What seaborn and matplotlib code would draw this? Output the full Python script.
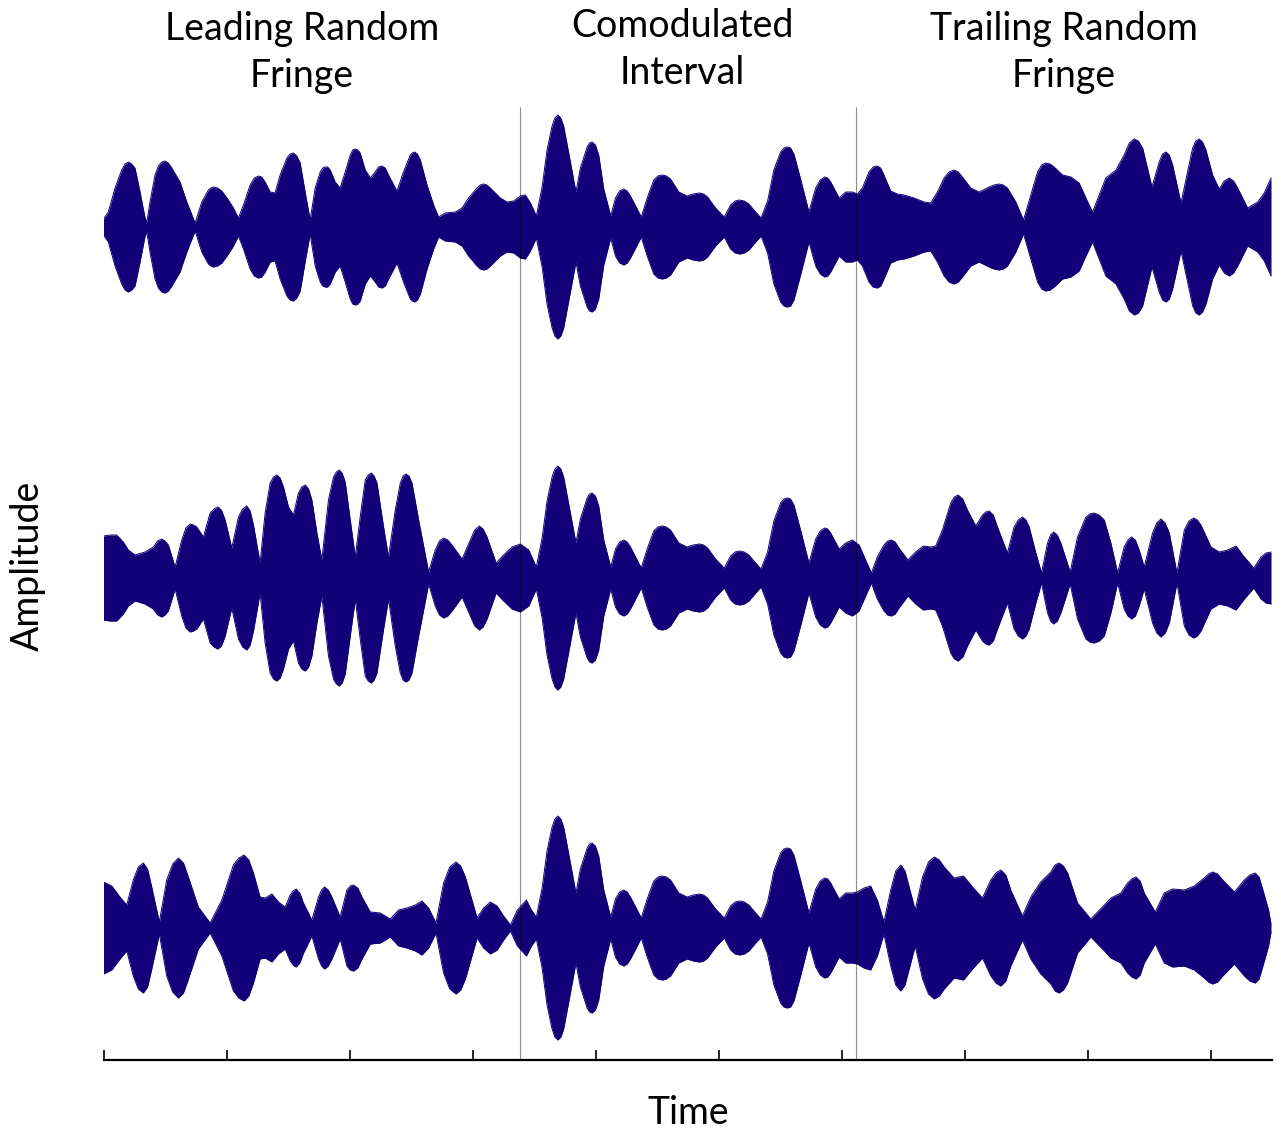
import numpy as np
import pandas as pd
import matplotlib
matplotlib.use("Agg")
import matplotlib.pyplot as plt
import seaborn as sns

# ---------------------------------------------------------------------------
# Envelope data (time in ms, envelope half-amplitude in arbitrary units)
# ---------------------------------------------------------------------------
TICKS_MS = [0, 100, 200, 300, 400, 500, 600, 700, 800, 900]
BOUNDARIES_MS = [339, 612]
SECTION_LABELS = ["Leading Random\nFringe", "Comodulated\nInterval", "Trailing Random\nFringe"]

# shared envelope in the comodulated interval
COMOD_T = [351.9, 356.6, 360.6, 364.7, 367.0, 369.4, 371.8, 374.1, 379.6, 384.1,
           387.7, 393.2, 395.2, 397.2, 399.9, 402.6, 406.7, 412.4, 416.2, 419.6,
           423.0, 425.7, 428.4, 433.9, 437.2, 442.0, 447.4, 450.8, 454.2, 457.6,
           461.0, 467.7, 474.5, 479.5, 484.6, 487.9, 491.1, 497.6, 504.7, 509.8,
           513.5, 517.1, 520.9, 524.7, 530.2, 534.6, 539.9, 545.0, 550.5, 553.2,
           555.9, 558.6, 561.3, 566.7, 573.5, 579.0, 582.7, 586.3, 588.8, 591.2,
           598.1, 603.4]
COMOD_A = [11, 40, 77, 101, 109, 112, 109, 101, 65, 35,
           59, 80, 84, 85, 82, 72, 38, 11, 29, 36,
           38, 36, 31, 18, 10, 29, 47, 51, 52, 51,
           48, 35, 31, 33, 34, 33, 30, 19, 10, 22,
           26, 27, 26, 23, 15, 9, 26, 57, 75, 79,
           80, 79, 73, 48, 15, 39, 47, 50, 49, 45,
           29, 35]

# band 1
LEAD1_T = [0, 3.9, 9.4, 14.8, 17.5, 20.2, 22.9, 25.6, 29.7, 33.8,
           35.2, 37.8, 41.9, 44.6, 47.4, 50.0, 52.7, 55.5, 62.2, 67.7,
           74.5, 79.9, 85.3, 87.3, 89.3, 92.7, 96.2, 101.5, 105.6, 109.7,
           113.8, 119.2, 122.6, 126.0, 128.7, 131.4, 135.5, 139.5, 143.6, 149.1,
           151.7, 154.4, 157.1, 159.9, 163.9, 168.0, 172.1, 176.2, 178.2, 180.2,
           182.2, 184.3, 188.4, 192.4, 196.5, 200.6, 202.6, 204.7, 206.7, 208.7,
           212.8, 216.9, 220.9, 223.6, 226.4, 229.0, 231.7, 238.6, 243.9, 249.4,
           251.1, 252.9, 255.2, 257.6, 263.0, 268.4, 272.4, 277.9, 286.0, 291.5,
           296.8, 303.7, 306.3, 309.0, 311.7, 314.5, 322.6, 328.1, 333.5, 338.9,
           343.0, 347.1]
LEAD1_A = [8, 15, 39, 57, 63, 65, 63, 59, 35, 9,
           5, 25, 52, 61, 65, 66, 64, 59, 45, 25,
           4, 25, 37, 39, 40, 39, 36, 27, 19, 9,
           22, 42, 49, 51, 50, 45, 35, 34, 52, 69,
           73, 74, 71, 64, 35, 7, 39, 55, 59, 60,
           60, 57, 45, 39, 55, 72, 77, 78, 77, 74,
           57, 49, 55, 60, 61, 59, 52, 36, 55, 72,
           74, 75, 73, 67, 42, 22, 10, 14, 15, 19,
           29, 39, 42, 43, 42, 39, 29, 25, 26, 31,
           32, 24]
TRAIL1_T = [608.8, 612.9, 617.0, 622.3, 625.7, 629.1, 631.8, 634.5, 640.0, 645.5,
            650.8, 659.0, 667.1, 672.5, 678.0, 683.4, 687.4, 691.5, 694.9, 698.3,
            705.1, 711.8, 720.0, 724.0, 728.1, 731.5, 734.9, 741.7, 748.0, 753.9,
            759.4, 762.7, 766.1, 769.5, 772.9, 779.7, 786.5, 793.2, 798.7, 804.1,
            809.5, 814.9, 823.1, 829.8, 834.0, 838.0, 841.4, 844.8, 852.4, 858.3,
            861.0, 863.8, 866.5, 869.2, 876.0, 881.4, 885.5, 888.1, 890.8, 893.5,
            896.3, 901.7, 907.1, 911.2, 915.3, 918.7, 922.1, 930.2, 938.4, 943.7,
            949.2]
TRAIL1_A = [35, 33, 39, 55, 60, 61, 59, 52, 36, 33,
            32, 29, 25, 24, 35, 49, 55, 57, 55, 50,
            39, 35, 40, 42, 43, 42, 39, 25, 7, 32,
            55, 62, 64, 63, 60, 52, 50, 44, 29, 15,
            32, 49, 57, 72, 84, 88, 86, 79, 40, 65,
            73, 75, 72, 62, 24, 55, 79, 86, 88, 85,
            77, 52, 38, 46, 49, 46, 39, 19, 25, 34,
            49]

# band 2
LEAD2_T = [0, 5.3, 10.7, 16.1, 20.2, 25.6, 33.8, 40.5, 44.0, 47.4,
           50.0, 52.7, 58.2, 63.6, 67.0, 70.4, 73.1, 75.8, 81.2, 86.7,
           89.8, 92.9, 95.9, 98.9, 104.3, 109.7, 113.1, 116.5, 119.2, 121.9,
           127.3, 131.4, 135.5, 138.2, 140.9, 143.6, 146.3, 150.4, 154.4, 158.5,
           161.2, 164.0, 166.7, 169.4, 173.5, 177.5, 182.9, 187.0, 189.3, 191.6,
           194.0, 196.5, 200.6, 204.7, 208.7, 212.8, 215.2, 217.7, 220.0, 222.3,
           227.7, 231.7, 237.2, 241.3, 243.6, 245.9, 248.3, 250.8, 256.2, 264.3,
           269.7, 273.1, 276.5, 279.9, 283.3, 291.5, 298.2, 301.8, 305.5, 308.6,
           311.8, 319.2, 325.3, 332.1, 338.9, 345.7]
LEAD2_A = [42, 43, 43, 36, 28, 23, 26, 31, 37, 39,
           37, 33, 11, 38, 50, 54, 53, 51, 41, 65,
           69, 71, 68, 58, 30, 61, 69, 72, 67, 53,
           15, 65, 95, 101, 103, 100, 91, 71, 63, 85,
           91, 93, 89, 78, 45, 18, 78, 101, 106, 108,
           105, 96, 58, 21, 61, 98, 103, 105, 102, 95,
           51, 21, 68, 95, 102, 104, 102, 95, 58, 6,
           28, 37, 40, 38, 33, 19, 38, 48, 52, 49,
           41, 15, 23, 31, 34, 28]
TRAIL2_T = [608.8, 614.3, 619.6, 624.3, 629.1, 634.5, 637.5, 640.5, 643.6, 646.7,
            654.0, 660.3, 666.5, 672.5, 676.6, 682.0, 688.8, 691.8, 694.8, 698.6,
            702.4, 709.2, 714.6, 717.3, 720.0, 723.4, 726.8, 734.9, 740.3, 743.7,
            747.1, 749.9, 752.6, 758.0, 762.6, 767.5, 770.0, 772.4, 775.4, 778.3,
            785.9, 791.9, 798.7, 802.0, 805.4, 809.5, 813.6, 819.0, 824.5, 829.8,
            832.8, 835.8, 838.9, 842.0, 846.1, 852.9, 856.3, 859.7, 863.1, 866.5,
            872.7, 878.7, 882.5, 886.3, 889.3, 892.2, 900.4, 907.1, 914.0, 920.7,
            927.5, 935.2, 941.1, 945.2, 949.2]
TRAIL2_A = [38, 33, 18, 5, 21, 33, 37, 38, 36, 30,
            18, 26, 32, 31, 32, 48, 75, 81, 83, 79,
            68, 52, 63, 66, 67, 63, 51, 25, 51, 58,
            61, 58, 51, 25, 5, 35, 43, 46, 43, 35,
            6, 41, 61, 64, 65, 63, 58, 35, 5, 31,
            38, 41, 38, 28, 11, 45, 55, 59, 55, 45,
            5, 48, 57, 60, 58, 53, 31, 26, 28, 32,
            21, 10, 21, 25, 26]

# band 3
LEAD3_T = [0, 6.7, 13.4, 18.9, 24.2, 28.3, 32.4, 35.8, 39.2, 45.4,
           51.4, 56.2, 60.9, 65.0, 69.0, 77.1, 86.7, 96.2, 105.6, 110.0,
           114.3, 118.1, 121.9, 127.3, 131.4, 136.9, 142.2, 147.7, 151.8, 154.2,
           156.6, 159.6, 162.6, 169.4, 174.8, 177.3, 179.7, 182.7, 185.7, 192.4,
           197.9, 200.6, 203.3, 206.7, 210.1, 216.9, 225.0, 233.1, 239.9, 246.7,
           253.5, 258.9, 264.3, 270.3, 276.5, 281.5, 286.6, 290.4, 294.2, 303.7,
           309.0, 314.5, 320.0, 325.3, 330.8, 336.5, 343.8, 347.9]
LEAD3_A = [46, 42, 31, 23, 48, 61, 65, 59, 41, 6,
           48, 64, 70, 65, 51, 21, 5, 28, 63, 70,
           73, 68, 55, 31, 30, 34, 26, 21, 33, 37,
           39, 35, 25, 8, 31, 38, 41, 38, 31, 11,
           38, 42, 43, 40, 31, 16, 15, 9, 18, 20,
           23, 27, 20, 5, 45, 61, 66, 62, 51, 10,
           20, 26, 22, 12, 3, 18, 28, 18]
TRAIL3_T = [608.8, 612.9, 618.3, 623.7, 629.1, 634.5, 640.0, 644.1, 648.2, 651.6,
            655.0, 659.9, 665.9, 670.7, 675.4, 679.5, 683.5, 691.5, 699.2, 706.5,
            714.6, 721.4, 725.5, 729.5, 733.6, 737.6, 747.1, 753.9, 762.0, 770.2,
            773.6, 776.9, 780.4, 783.8, 791.9, 802.7, 812.2, 819.0, 827.1, 832.6,
            836.0, 839.4, 842.8, 846.1, 855.1, 862.4, 869.2, 878.7, 886.8, 894.9,
            898.3, 901.7, 905.8, 909.9, 919.4, 927.5, 931.9, 936.3, 939.5, 942.6,
            947.2, 949.2]
TRAIL3_A = [35, 36, 40, 42, 28, 6, 38, 57, 63, 57,
            41, 18, 51, 66, 71, 68, 61, 50, 52, 41,
            30, 48, 55, 58, 53, 38, 12, 31, 46, 56,
            63, 65, 62, 55, 25, 9, 21, 30, 35, 45,
            49, 51, 47, 35, 16, 35, 39, 38, 42, 50,
            54, 56, 54, 48, 36, 48, 53, 55, 51, 38,
            18, 4]

BANDS = [
    (LEAD1_T, LEAD1_A, TRAIL1_T, TRAIL1_A),
    (LEAD2_T, LEAD2_A, TRAIL2_T, TRAIL2_A),
    (LEAD3_T, LEAD3_A, TRAIL3_T, TRAIL3_A),
]

# ---------------------------------------------------------------------------
# Styling / layout
# ---------------------------------------------------------------------------
NAVY = "#120078"
W, H = 1281, 1131
BAND_OFFSETS = [0, -351, -701]      # vertical stacking of the three bands
Y_LIM = (-833, 127)

sns.set_theme(style="white")
plt.rcParams["font.family"] = ["Lato", "DejaVu Sans"]

fig = plt.figure(figsize=(W / 100, H / 100), dpi=100)
ax = fig.add_axes([103.5 / W, (H - 1060) / H, (1272 - 103.5) / W, (1060 - 100) / H])

# long-form table of envelope edges for seaborn
records = []
for i, (lt, la, tt, ta) in enumerate(BANDS):
    t = np.concatenate([lt, COMOD_T, tt])
    a = np.concatenate([la, COMOD_A, ta])
    off = BAND_OFFSETS[i]
    ax.fill_between(t, off - a, off + a, color=NAVY, linewidth=0, zorder=2)
    for side, sign in (("upper", 1), ("lower", -1)):
        for tv, av in zip(t, a):
            records.append({"time": tv, "y": off + sign * av, "trace": f"{i}-{side}"})
df = pd.DataFrame(records)

sns.lineplot(data=df, x="time", y="y", units="trace", estimator=None,
             color=NAVY, linewidth=0.7, sort=False, legend=False, ax=ax, zorder=2)

# section boundaries
ax.vlines(BOUNDARIES_MS, Y_LIM[0], 120, colors="black", linewidth=0.8,
          alpha=0.45, zorder=3)

ax.set_xlim(0, 950)
ax.set_ylim(*Y_LIM)
ax.set_xticks(TICKS_MS)
ax.set_yticks([])
ax.set_xlabel("")
ax.set_ylabel("")
ax.tick_params(axis="x", direction="in", length=7, width=1.2, color="black",
               labelbottom=False, bottom=True)
for s in ("top", "left", "right"):
    ax.spines[s].set_visible(False)
ax.spines["bottom"].set_color("black")
ax.spines["bottom"].set_linewidth(1.6)
ax.patch.set_alpha(0)

# section headers
FS = 27
header_pos = [(302, 40, 87), (682, 37, 84), (1064, 40, 87)]
for label, (xc, y1, y2) in zip(SECTION_LABELS, header_pos):
    l1, l2 = label.split("\n")
    fig.text(xc / W, 1 - y1 / H, l1, ha="center", va="baseline", fontsize=FS, color="black")
    fig.text(xc / W, 1 - y2 / H, l2, ha="center", va="baseline", fontsize=FS, color="black")

fig.text(688 / W, 1 - 1124 / H, "Time", ha="center", va="baseline", fontsize=FS, color="black")
fig.text(46 / W, 1 - 566 / H, "Amplitude", ha="right", va="center", rotation=90,
         fontsize=FS, color="black")

fig.savefig("out.png", dpi=100, facecolor="white")
